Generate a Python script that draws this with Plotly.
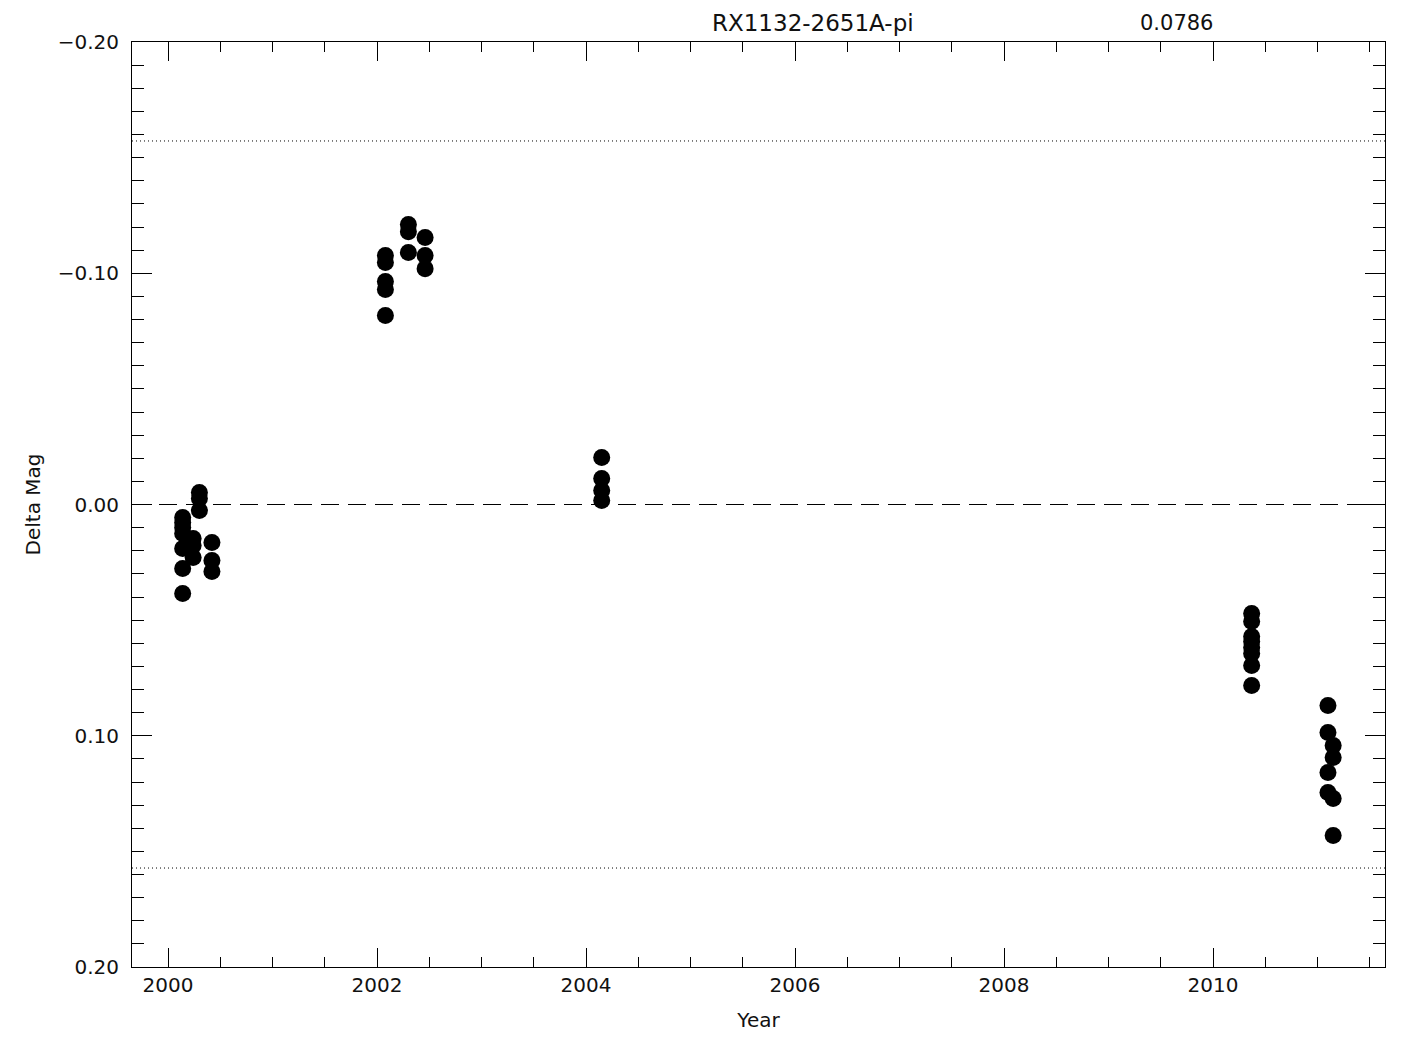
import plotly.graph_objects as go

# Observation epochs (years) and delta magnitudes
year = [2000.14, 2000.14, 2000.14, 2000.14, 2000.14, 2000.14, 2000.14,
        2000.24, 2000.24, 2000.24,
        2000.30, 2000.30, 2000.30,
        2000.42, 2000.42, 2000.42,
        2002.08, 2002.08, 2002.08, 2002.08, 2002.08,
        2002.30, 2002.30, 2002.30,
        2002.46, 2002.46, 2002.46,
        2004.15, 2004.15, 2004.15, 2004.15,
        2010.37, 2010.37, 2010.37, 2010.37, 2010.37, 2010.37, 2010.37, 2010.37,
        2011.10, 2011.10, 2011.10, 2011.10,
        2011.15, 2011.15, 2011.15, 2011.15]
dmag = [0.0056, 0.0078, 0.0099, 0.0125, 0.0190, 0.0277, 0.0385,
        0.0147, 0.0177, 0.0229,
        -0.0052, -0.0026, 0.0026,
        0.0164, 0.0242, 0.0290,
        -0.1077, -0.1046, -0.0964, -0.0930, -0.0817,
        -0.1211, -0.1180, -0.1090,
        -0.1155, -0.1077, -0.1020,
        -0.0203, -0.0112, -0.0061, -0.0017,
        0.0471, 0.0506, 0.0571, 0.0592, 0.0618, 0.0644, 0.0696, 0.0783,
        0.0869, 0.0986, 0.1159, 0.1245,
        0.1042, 0.1094, 0.1271, 0.1431]

object_name = "RX1132-2651A-pi"
sigma = 0.0786
x_range = [1999.655, 2011.646]
y_range = [0.2, -0.2]

FONT = "DejaVu Sans"
TXT = "#111111"

fig = go.Figure()
fig.add_trace(go.Scatter(
    x=year, y=dmag, mode="markers",
    marker=dict(symbol="circle", size=17, color="black", line=dict(width=0)),
    showlegend=False, hoverinfo="x+y"))

# zero line and 2-sigma lines
fig.add_shape(type="line", xref="paper", x0=0, x1=1, yref="y", y0=0, y1=0,
              line=dict(color="black", width=1, dash="18px,9px"))
for s in (-2 * sigma, 2 * sigma):
    fig.add_shape(type="line", xref="paper", x0=0, x1=1, yref="y", y0=s, y1=s,
                  line=dict(color="black", width=1, dash="1px,3px"))

fig.add_annotation(text=object_name, xref="paper", yref="paper", x=0.5435, y=1.0,
                   yshift=4, xanchor="center", yanchor="bottom", showarrow=False,
                   font=dict(family=FONT, size=23, color=TXT))
fig.add_annotation(text=f"{sigma:.4f}", xref="paper", yref="paper", x=0.8335, y=1.0,
                   yshift=5, xanchor="center", yanchor="bottom", showarrow=False,
                   font=dict(family=FONT, size=21, color=TXT))

fig.update_xaxes(
    range=x_range, tickmode="linear", tick0=2000, dtick=2, tickformat="d",
    ticks="inside", ticklen=19, tickwidth=1, tickcolor="black",
    minor=dict(dtick=0.5, tick0=2000, ticks="inside", ticklen=10, tickwidth=1, tickcolor="black"),
    showline=True, linecolor="black", linewidth=1, mirror="ticks",
    showgrid=False, zeroline=False,
    tickfont=dict(family=FONT, size=20, color=TXT),
    title=dict(text="Year", font=dict(family=FONT, size=20, color=TXT), standoff=16))
fig.update_yaxes(
    range=y_range, tickmode="linear", tick0=-0.2, dtick=0.1, tickformat=".2f",
    ticks="inside", ticklen=20, tickwidth=1, tickcolor="black",
    minor=dict(dtick=0.01, ticks="inside", ticklen=12, tickwidth=1, tickcolor="black"),
    showline=True, linecolor="black", linewidth=1, mirror="ticks",
    showgrid=False, zeroline=False, ticklabelstandoff=8,
    tickfont=dict(family=FONT, size=20, color=TXT),
    title=dict(text="Delta Mag", font=dict(family=FONT, size=20, color=TXT), standoff=11))

fig.update_layout(
    width=1410, height=1035,
    margin=dict(l=124, r=33, t=34, b=76),
    plot_bgcolor="white", paper_bgcolor="white",
    font=dict(family=FONT, color=TXT))

fig.write_html("out.html")
